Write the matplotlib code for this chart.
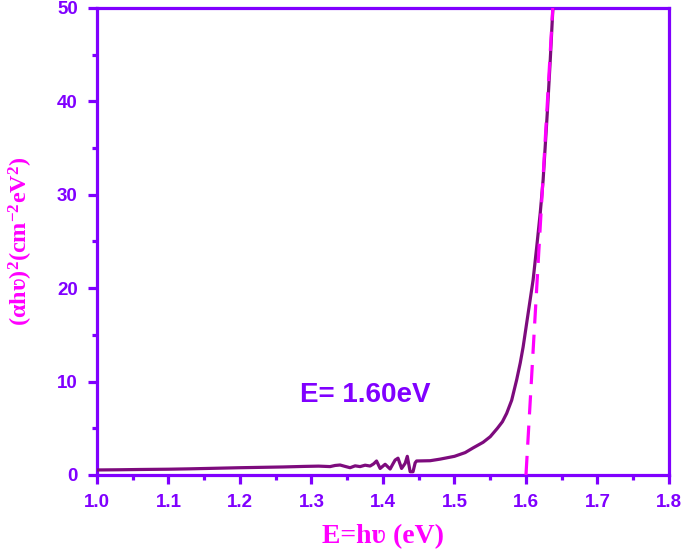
import numpy as np
import matplotlib
matplotlib.use('Agg')
import matplotlib.pyplot as plt
from matplotlib.ticker import MultipleLocator

# colours
axis_col = '#8000FF'
label_col = '#FF00FF'
curve_col = '#7D0B7D'

# Tauc curve (photon energy in eV, (ahv)^2)
energy = [1.000, 1.030, 1.060, 1.100, 1.130, 1.165, 1.200, 1.230, 1.260, 1.290,
          1.310, 1.326, 1.333, 1.340, 1.347, 1.354, 1.361, 1.368, 1.375, 1.382,
          1.387, 1.391, 1.396, 1.403, 1.410, 1.414, 1.417, 1.421, 1.426, 1.431,
          1.434, 1.438, 1.442, 1.445, 1.447, 1.466, 1.480, 1.500, 1.515, 1.526,
          1.540, 1.550, 1.560, 1.567, 1.573, 1.580, 1.587, 1.592, 1.596, 1.603,
          1.610, 1.615, 1.620, 1.624, 1.630, 1.634, 1.638]
absorb = [0.54, 0.56, 0.59, 0.62, 0.66, 0.72, 0.78, 0.82, 0.86, 0.92,
          0.95, 0.90, 1.02, 1.07, 0.92, 0.78, 0.98, 0.90, 1.05, 0.96,
          1.20, 1.50, 0.70, 1.15, 0.64, 1.20, 1.60, 1.80, 0.70, 1.25,
          2.00, 0.35, 0.35, 1.30, 1.50, 1.53, 1.70, 2.00, 2.40, 2.90,
          3.50, 4.10, 5.00, 5.70, 6.60, 8.00, 10.2, 12.0, 13.7, 17.3,
          20.9, 24.4, 28.1, 31.6, 39.0, 44.5, 50.5]

# linear fit to the absorption edge
fit_x = [1.600, 1.6375]
fit_y = [0.0, 50.0]
gap_text = 'E= 1.60eV'

plt.rcParams['mathtext.fontset'] = 'custom'
plt.rcParams['mathtext.rm'] = 'Liberation Serif:bold'
plt.rcParams['mathtext.bf'] = 'Liberation Serif:bold'
plt.rcParams['mathtext.it'] = 'Liberation Serif:bold'

fig = plt.figure(figsize=(6.85, 5.54), dpi=100)
ax = fig.add_axes([0.1416, 0.1426, 0.835, 0.843])

ax.plot(energy, absorb, color=curve_col, lw=2.3, zorder=3)
ax.plot(fit_x, fit_y, color=label_col, lw=2.3, linestyle=(0, (6, 3.5)), zorder=4)

ax.text(1.284, 8.6, gap_text, color=axis_col, fontsize=20, fontweight='bold',
        family='Liberation Sans', va='center', ha='left')

ax.set_xlim(1.0, 1.8)
ax.set_ylim(0, 50)
ax.xaxis.set_major_locator(MultipleLocator(0.1))
ax.xaxis.set_minor_locator(MultipleLocator(0.05))
ax.yaxis.set_major_locator(MultipleLocator(10))
ax.yaxis.set_minor_locator(MultipleLocator(5))
ax.xaxis.set_major_formatter(matplotlib.ticker.FormatStrFormatter('%.1f'))

for s in ax.spines.values():
    s.set_color(axis_col)
    s.set_linewidth(2.3)

ax.tick_params(which='major', direction='out', length=6.3, width=2.3, color=axis_col,
               labelcolor=axis_col, labelsize=13.5, pad=7.5)
ax.tick_params(which='minor', direction='out', length=3.8, width=2.3, color=axis_col)
for lab in ax.get_xticklabels() + ax.get_yticklabels():
    lab.set_fontweight('bold')
    lab.set_family('Liberation Sans')

ax.set_xlabel('E=h\u028b (eV)', color=label_col, fontsize=20, fontweight='bold',
              family='Liberation Serif', labelpad=9)
ax.set_ylabel('(\u03b1h\u028b)$^{2}$(cm$^{-2}$eV$^{2}$)', color=label_col, fontsize=17.5,
              fontweight='bold', family='Liberation Serif', labelpad=16)

plt.savefig('out.png', dpi=100)
